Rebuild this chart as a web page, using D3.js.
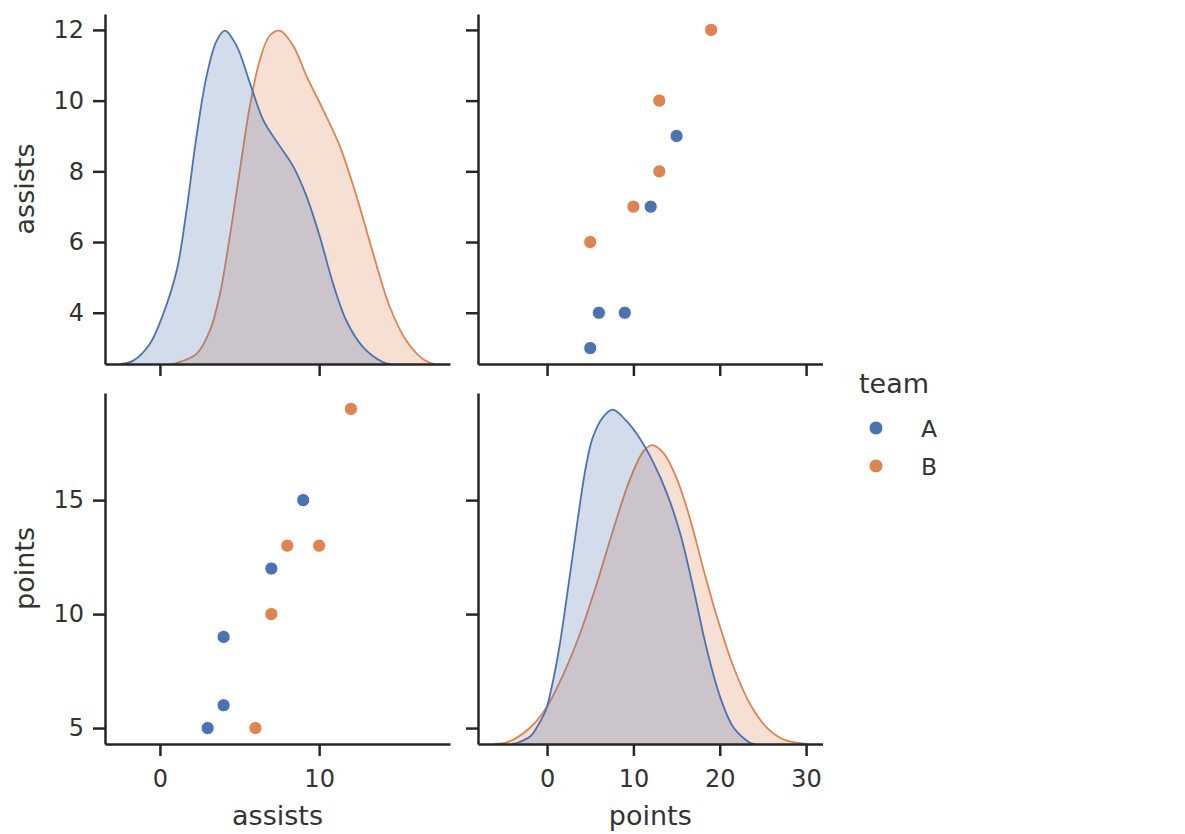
<!DOCTYPE html>
<html>
<head>
<meta charset="utf-8">
<script src="https://cdn.jsdelivr.net/npm/d3@7"></script>
<style>
  html, body { margin: 0; padding: 0; background: #ffffff; }
  svg { display: block; font-family: "DejaVu Sans", sans-serif; }
</style>
</head>
<body>
<svg id="chart" width="1185" height="834"></svg>
<script>
// ---- data ----
const teams = ["A", "B"];
const team    = ["A","A","A","A","A","B","B","B","B","B"];
const assists = [3, 4, 4, 7, 9, 6, 7, 8, 10, 12];
const points  = [5, 6, 9, 12, 15, 5, 10, 13, 13, 19];

// tick values
const assistsTicksY = [4, 6, 8, 10, 12];
const assistsTicksX = [0, 10];
const pointsTicksY  = [5, 10, 15];
const pointsTicksX  = [0, 10, 20, 30];

// axis limits (as shown)
const assistsLim = [-3.45, 18.22];
const assistsLimY = [2.55, 12.45];
const pointsLim  = [-8.0, 31.9];
const pointsLimY = [4.3, 19.7];

// KDE curves (x, density)
const kdeAssistsAx = [-2.46, -1.67, -0.63, 0.21, 1.05, 1.67, 2.30, 2.93, 3.56, 4.08, 4.81, 5.65, 6.49, 7.53, 8.37, 9.21, 10.04, 10.88, 11.72, 12.76, 14.0, 14.46];
const kdeAssistsAy = [0, 0.0007, 0.0042, 0.0104, 0.0193, 0.0318, 0.0472, 0.0596, 0.0669, 0.0690, 0.0659, 0.0582, 0.0505, 0.0451, 0.0409, 0.0347, 0.0264, 0.0166, 0.0089, 0.0035, 0.0004, 0];
const kdeAssistsBx = [0.76, 1.05, 2.30, 3.14, 3.77, 4.39, 5.02, 5.65, 6.28, 6.90, 7.53, 8.37, 9.21, 10.25, 11.30, 12.35, 13.39, 14.44, 15.48, 16.53, 17.24];
const kdeAssistsBy = [0, 0.0002, 0.0021, 0.0069, 0.0145, 0.0264, 0.0401, 0.0534, 0.0630, 0.0680, 0.0690, 0.0659, 0.0596, 0.0526, 0.0451, 0.0347, 0.0229, 0.0118, 0.0048, 0.0010, 0];
const kdePointsAx = [-4.04, -3.26, -1.90, -0.93, -0.15, 0.62, 1.40, 2.17, 2.94, 3.72, 4.50, 5.27, 6.43, 7.59, 9.22, 10.78, 12.33, 13.87, 15.43, 16.98, 18.52, 20.08, 21.63, 23.57, 24.04];
const kdePointsAy = [0, 0.0002, 0.0009, 0.0023, 0.0038, 0.0068, 0.0108, 0.0158, 0.0211, 0.0265, 0.0313, 0.0345, 0.0368, 0.0377, 0.0364, 0.0344, 0.0317, 0.0283, 0.0237, 0.0174, 0.0106, 0.0052, 0.0018, 0.0001, 0];
const kdePointsBx = [-6.09, -4.34, -2.02, -0.08, 1.86, 3.80, 5.73, 7.67, 9.62, 11.16, 12.13, 13.49, 15.03, 16.59, 18.14, 19.69, 21.63, 23.57, 25.50, 27.44, 30.09];
const kdePointsBy = [0, 0.0003, 0.0018, 0.0041, 0.0078, 0.0124, 0.0180, 0.0242, 0.0299, 0.0330, 0.0337, 0.0328, 0.0299, 0.0253, 0.0196, 0.0143, 0.0086, 0.0044, 0.0018, 0.0005, 0];

// ---- layout / style ----
const colors = { A: "#4c72b0", B: "#dd8452" };
const ink = "#262626";
const tickFont = 24, labelFont = 27;
const cols = [[105, 450], [478, 822.5]];
const rows = [[14, 364], [393, 744]];

const svg = d3.select("#chart");

// scales
const xAssists = d3.scaleLinear().domain(assistsLim).range(cols[0]);
const xPoints  = d3.scaleLinear().domain(pointsLim).range(cols[1]);
const yAssists = d3.scaleLinear().domain(assistsLimY).range([rows[0][1], rows[0][0]]);
const yPoints  = d3.scaleLinear().domain(pointsLimY).range([rows[1][1], rows[1][0]]);

const dAssistsMax = d3.max(kdeAssistsAy.concat(kdeAssistsBy));
const dPointsMax = d3.max(kdePointsAy.concat(kdePointsBy));
const yDensA = d3.scaleLinear().domain([0, dAssistsMax * 1.05]).range([rows[0][1], rows[0][0]]);
const yDensP = d3.scaleLinear().domain([0, dPointsMax * 1.05]).range([rows[1][1], rows[1][0]]);

// ---- KDE diagonals ----
const curve = d3.curveCatmullRom.alpha(0.5);
function drawKde(xs, ys, xScale, yScale, color) {
  const pts = xs.map((x, i) => [x, ys[i]]);
  const area = d3.area()
    .x(d => xScale(d[0]))
    .y0(yScale(0))
    .y1(d => Math.min(yScale(0), yScale(d[1])))
    .curve(curve);
  svg.append("path")
    .attr("d", area(pts))
    .attr("fill", color)
    .attr("fill-opacity", 0.25)
    .attr("stroke", "none");
  const line = d3.line()
    .x(d => xScale(d[0]))
    .y(d => yScale(d[1]))
    .curve(curve);
  svg.append("path")
    .attr("d", line(pts))
    .attr("fill", "none")
    .attr("stroke", color)
    .attr("stroke-width", 1.8);
}
// second hue level first, first level on top (as seaborn layers it)
drawKde(kdeAssistsBx, kdeAssistsBy, xAssists, yDensA, colors.B);
drawKde(kdeAssistsAx, kdeAssistsAy, xAssists, yDensA, colors.A);
drawKde(kdePointsBx, kdePointsBy, xPoints, yDensP, colors.B);
drawKde(kdePointsAx, kdePointsAy, xPoints, yDensP, colors.A);

// ---- scatter panels ----
const rowsData = team.map((t, i) => ({ team: t, assists: assists[i], points: points[i] }));
// top-right: x = points, y = assists
svg.append("g").selectAll("circle")
  .data(rowsData).join("circle")
  .attr("cx", d => xPoints(d.points))
  .attr("cy", d => yAssists(d.assists))
  .attr("r", 6.6)
  .attr("fill", d => colors[d.team])
  .attr("stroke", "#ffffff")
  .attr("stroke-width", 1);
// bottom-left: x = assists, y = points
svg.append("g").selectAll("circle")
  .data(rowsData).join("circle")
  .attr("cx", d => xAssists(d.assists))
  .attr("cy", d => yPoints(d.points))
  .attr("r", 6.6)
  .attr("fill", d => colors[d.team])
  .attr("stroke", "#ffffff")
  .attr("stroke-width", 1);

// ---- axes ----
function styleAxis(g) {
  g.select(".domain").attr("stroke", ink).attr("stroke-width", 2.5);
  g.selectAll(".tick line").attr("stroke", ink).attr("stroke-width", 2.5);
  g.selectAll(".tick text").attr("fill", "#333333").attr("font-size", tickFont)
    .attr("font-family", "DejaVu Sans, sans-serif");
}
function leftAxis(scale, ticks, x, labels) {
  const ax = d3.axisLeft(scale).tickValues(ticks).tickSize(12).tickPadding(9).tickSizeOuter(0);
  if (!labels) ax.tickFormat("");
  const g = svg.append("g").attr("transform", `translate(${x},0)`).call(ax);
  styleAxis(g);
}
function bottomAxis(scale, ticks, y, labels) {
  const ax = d3.axisBottom(scale).tickValues(ticks).tickSize(12).tickPadding(14).tickSizeOuter(0);
  if (!labels) ax.tickFormat("");
  const g = svg.append("g").attr("transform", `translate(0,${y})`).call(ax);
  styleAxis(g);
}

leftAxis(yAssists, assistsTicksY, cols[0][0], true);
leftAxis(yAssists, assistsTicksY, cols[1][0], false);
leftAxis(yPoints, pointsTicksY, cols[0][0], true);
leftAxis(yPoints, pointsTicksY, cols[1][0], false);
bottomAxis(xAssists, assistsTicksX, rows[0][1], false);
bottomAxis(xPoints, pointsTicksX, rows[0][1], false);
bottomAxis(xAssists, assistsTicksX, rows[1][1], true);
bottomAxis(xPoints, pointsTicksX, rows[1][1], true);

// ---- axis labels ----
const labelsG = svg.append("g").attr("fill", "#333333").attr("font-size", labelFont);
labelsG.append("text")
  .attr("transform", `translate(34,${(rows[0][0] + rows[0][1]) / 2}) rotate(-90)`)
  .attr("text-anchor", "middle").text("assists");
labelsG.append("text")
  .attr("transform", `translate(34,${(rows[1][0] + rows[1][1]) / 2}) rotate(-90)`)
  .attr("text-anchor", "middle").text("points");
labelsG.append("text")
  .attr("x", (cols[0][0] + cols[0][1]) / 2).attr("y", 825)
  .attr("text-anchor", "middle").text("assists");
labelsG.append("text")
  .attr("x", (cols[1][0] + cols[1][1]) / 2).attr("y", 825)
  .attr("text-anchor", "middle").text("points");

// ---- legend ----
const legend = svg.append("g");
legend.append("text").attr("x", 859).attr("y", 393)
  .attr("font-size", labelFont).attr("fill", "#333333").text("team");
const legendY = d3.scalePoint().domain(teams).range([428, 466]);
const items = legend.selectAll("g.item").data(teams).join("g").attr("class", "item");
items.append("circle")
  .attr("cx", 876).attr("cy", d => legendY(d)).attr("r", 7)
  .attr("fill", d => colors[d]).attr("stroke", "#ffffff").attr("stroke-width", 1);
items.append("text")
  .attr("x", 921).attr("y", d => legendY(d) + 8.5)
  .attr("font-size", 23.5).attr("fill", "#333333").text(d => d);
</script>
</body>
</html>
